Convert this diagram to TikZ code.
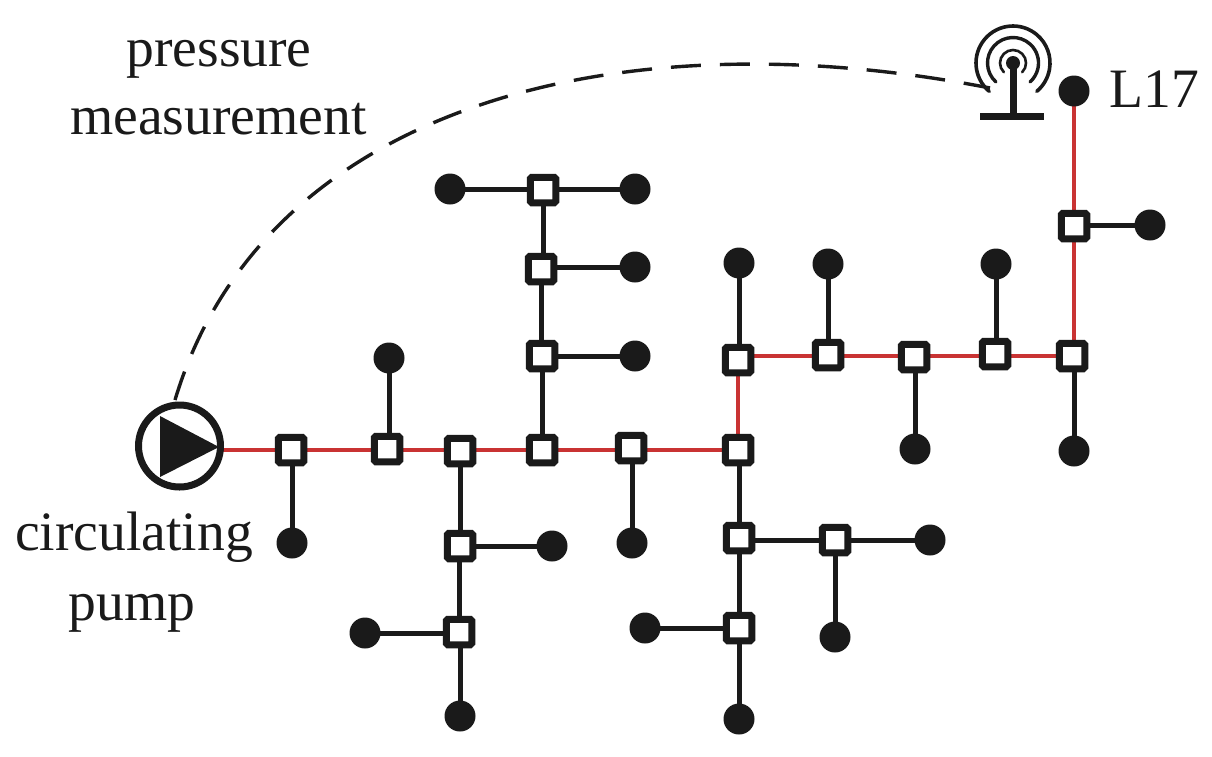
\documentclass[tikz,border=0pt]{standalone}
\usepackage{fontspec}
\setmainfont{Liberation Serif}
\definecolor{ink}{HTML}{1A1A1A}
\definecolor{mainred}{HTML}{C93333}
\tikzset{
  x=1pt,y=-1pt,
  junction/.style={draw=ink,fill=white,line width=7pt,minimum size=25.5pt,inner sep=0pt,rounded corners=1.5pt},
  endpt/.style={circle,fill=ink,minimum size=31pt,inner sep=0pt},
  redwire/.style={draw=mainred,line width=4.4pt},
  blackwire/.style={draw=ink,line width=5pt},
  lbl/.style={text=ink,font=\fontsize{55.6}{60}\selectfont,inner sep=0pt,anchor=base},
}
\begin{document}
\begin{tikzpicture}
\useasboundingbox (0,0) rectangle (1212,756);
% coordinates
\coordinate (pc) at (179.5,446);
\coordinate (ant) at (1013,63);
\coordinate (pumptop) at (175,400);
\coordinate (antend) at (990,88);
% junction positions
\foreach \n/\x/\y in {s1/291/450,s2/387/449,s3/460/451,s4/542/450,s5/631/448,s6/738/450,
 s7/738/360,s8/828/355,s9/914/357,s10/995/354,s11/1072/356,s12/1074/226,
 t1/543/190,t2/541/269,t3/542/356,l1/460/546,l2/459/632,r1/739/538,r2/835/540,r3/739/628}
  {\coordinate (\n) at (\x,\y);}
\foreach \n/\x/\y in {d1/1074/91,d2/1150/225,d3/1074/451,d4/996/264,d5/915/449,d6/828/264,d7/739/263,
 d8/389/358,d9/292/543,d10/450/189,d11/635/189,d12/635/267,d13/635/356,d14/632/543,d15/552/546,
 d16/365/633,d17/460/716,d18/645/628,d19/739/719,d20/930/540,d21/835/637}
  {\coordinate (\n) at (\x,\y);}
% black wires: vertical ones keep the x of the end point, horizontal ones its y
\foreach \a/\b in {d9/s1,d8/s2,d17/l2,d14/s5,d19/r3,d21/r2,d7/s7,d6/s8,d5/s9,d4/s10,d3/s11,
 l1/s3,l2/l1,t3/s4,t2/t3,t1/t2,r1/s6,r3/r1}
  {\path[blackwire] (\a) -- (\a |- \b);}
\foreach \a/\b in {d10/t1,d11/t1,d12/t2,d13/t3,d15/l1,d16/l2,d18/r3,d20/r2,d2/s12,r2/r1}
  {\path[blackwire] (\a) -- (\a -| \b);}
% red wires
\path[redwire] (pc |- s1) -- (s6) -- (s6 |- s11) -- (s11 -| d1) -- (d1);
% nodes
\foreach \n in {s1,s2,s3,s4,s5,s6,s7,s8,s9,s10,s11,s12,t1,t2,t3,l1,l2,r1,r2,r3}
  {\node[junction] (n\n) at (\n) {};}
\foreach \n in {d1,d2,d3,d4,d5,d6,d7,d8,d9,d10,d11,d12,d13,d14,d15,d16,d17,d18,d19,d20,d21}
  {\node[endpt] (n\n) at (\n) {};}
% pump
\node[circle,draw=ink,fill=white,line width=7pt,minimum size=82pt,inner sep=0pt] (pump) at (pc) {};
\fill[ink] (160,416) -- (160,477) -- (219,447) -- cycle;
% antenna
\fill[ink] (ant) circle (7);
\fill[ink] (1009.5,63) rectangle (1016.5,114);
\fill[ink] (980,113) rectangle (1044,119.5);
\draw[ink,line width=3.6pt,line cap=round] (ant) ++(130:37) arc (130:410:37);
\draw[ink,line width=3.4pt,line cap=round] (ant) ++(132:25.5) arc (132:408:25.5);
\draw[ink,line width=2.6pt,line cap=round] (ant) ++(135:13) arc (135:405:13);
% dashed link
\draw[ink,line width=3.4pt,dash pattern=on 30pt off 19pt] (pumptop) .. controls (262,110) and (610,14) .. (antend);
% labels
\node[lbl] (a) at (219,66) {pressure};
\node[lbl] (b) at (218.5,134) {measurement};
\node[lbl] (c) at (134,550) {circulating};
\node[lbl] (e) at (132,620) {pump};
\node[lbl] (f) at (1154,107) {L17};
\end{tikzpicture}
\end{document}
